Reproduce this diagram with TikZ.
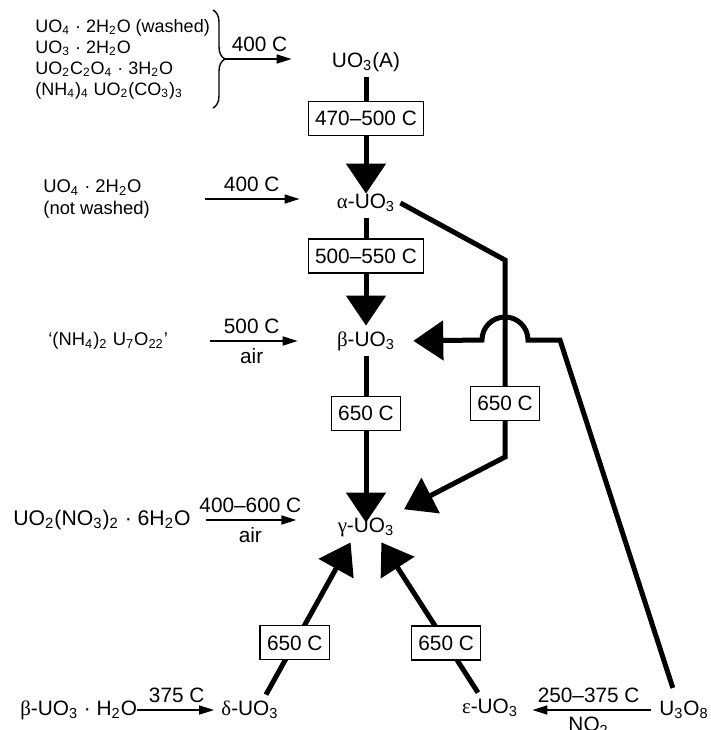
\documentclass[tikz,border=0pt]{standalone}
\usepackage{fontspec}
\setmainfont{Liberation Sans}
\newfontfamily\grk{Liberation Serif}
\usetikzlibrary{arrows.meta,decorations.pathreplacing}
\newcommand{\low}[1]{\textsubscript{#1}}
\begin{document}
\begin{tikzpicture}[x=0.5pt,y=-0.5pt,font=\fontsize{10.4}{11}\selectfont,
  phase/.style={inner sep=2.5pt,text height=7.5pt,text depth=2.5pt},
  src/.style={inner sep=0pt,align=left,anchor=west,font=\fontsize{9.2}{10.8}\selectfont},
  cond/.style={draw,fill=white,line width=0.6pt,inner xsep=3.5pt,inner ysep=0pt,minimum height=17pt},
  feed/.style={line width=0.8pt,-{Triangle[length=7.5pt,width=4.5pt]}},
  big/.style={line width=2.5pt,-{Triangle[length=15pt,width=19.5pt]}}]
\useasboundingbox (0,0) rectangle (711,730);
% phases
\node[phase] (A) at (366,62) {UO\low{3}(A)};
\node[phase] (alpha) at (366,203) {{\grk α}-UO\low{3}};
\node[phase] (beta) at (366,341) {{\grk β}-UO\low{3}};
\node[phase] (gamma) at (366,527) {{\grk γ}-UO\low{3}};
\node[phase] (delta) at (250,710) {{\grk δ}-UO\low{3}};
\node[phase] (eps) at (490,708) {{\grk ε}-UO\low{3}};
\node[phase] (uo) at (684,710) {U\low{3}O\low{8}};
% starting materials
\node[src,font=\fontsize{9}{10.5}\selectfont] (s1) at (35,59) {UO\low{4} · 2H\low{2}O (washed)\\UO\low{3} · 2H\low{2}O\\UO\low{2}C\low{2}O\low{4} · 3H\low{2}O\\(NH\low{4})\low{4} UO\low{2}(CO\low{3})\low{3}};
\node[src] (s2) at (43,199) {UO\low{4} · 2H\low{2}O\\(not washed)};
\node[src] (s3) at (48,341) {‘(NH\low{4})\low{2} U\low{7}O\low{22}’};
\node[src,font=\fontsize{10.6}{11}\selectfont] (s4) at (13,520) {UO\low{2}(NO\low{3})\low{2} · 6H\low{2}O};
\node[src,font=\fontsize{10.4}{11}\selectfont] (s5) at (20,710) {{\grk β}-UO\low{3} · H\low{2}O};
\coordinate (b1) at (213,10);
\coordinate (b2) at (213,108);
\coordinate (btip) at (225,59);
\coordinate (ag1) at (505,260);
\coordinate (ag2) at (505,457);
\coordinate (ub1) at (560,340);
\coordinate (ub2) at (528,340);
% feed arrows
\draw[line width=0.7pt,decorate,decoration={brace,amplitude=6pt}] (b1) -- (b2);
\draw[feed,shorten >=17.5pt] (btip) -- node[above,pos=0.34] {400 C} (btip -| A.west);
\draw[feed,shorten <=27.5pt,shorten >=16pt] (s2.east) -- node[above,pos=0.56] {400 C} (s2.east -| alpha.west);
\draw[feed,shorten <=21pt,shorten >=17pt] (s3.east) -- node[above,pos=0.51] {500 C} node[below,pos=0.51] {air} (s3.east -| beta.west);
\draw[feed,shorten <=7.5pt,shorten >=18pt] (s4.east) -- node[above,pos=0.42] {400–600 C} node[below,pos=0.42] {air} (s4.east -| gamma.west);
\draw[feed,shorten >=1pt] (s5.east) -- node[above] {375 C} (s5.east -| delta.west);
\draw[feed,shorten <=1.5pt,shorten >=4.5pt] (uo.west) -- node[above] {250–375 C} node[below] {NO\low{2}} (uo.west -| eps.east);
% transitions
\draw[big,shorten >=-3pt] (A) -- node[cond,pos=0.37] {470–500 C} (alpha);
\draw[big] (alpha) -- node[cond,pos=0.35] {500–550 C} (beta);
\draw[big,shorten >=-5.5pt] (beta) -- node[cond,pos=0.37] {650 C} (gamma);
\draw[big,shorten >=2.5pt] (alpha.east) -- (ag1) -- node[cond,pos=0.73] {650 C} (ag2) -- (gamma.north east);
\draw[big] ([xshift=8pt]delta.north) -- node[cond,pos=0.34] {650 C} (gamma.-135);
\draw[big] ([xshift=-6pt]eps.north) -- node[cond,pos=0.33] {650 C} (gamma.-45);
\draw[big,shorten <=3.5pt,shorten >=6.5pt] ([xshift=-4.5pt]uo.north) -- (ub1) -- (ub2) arc[start angle=0,end angle=-180,radius=23] -- (beta.east);
\end{tikzpicture}
\end{document}
